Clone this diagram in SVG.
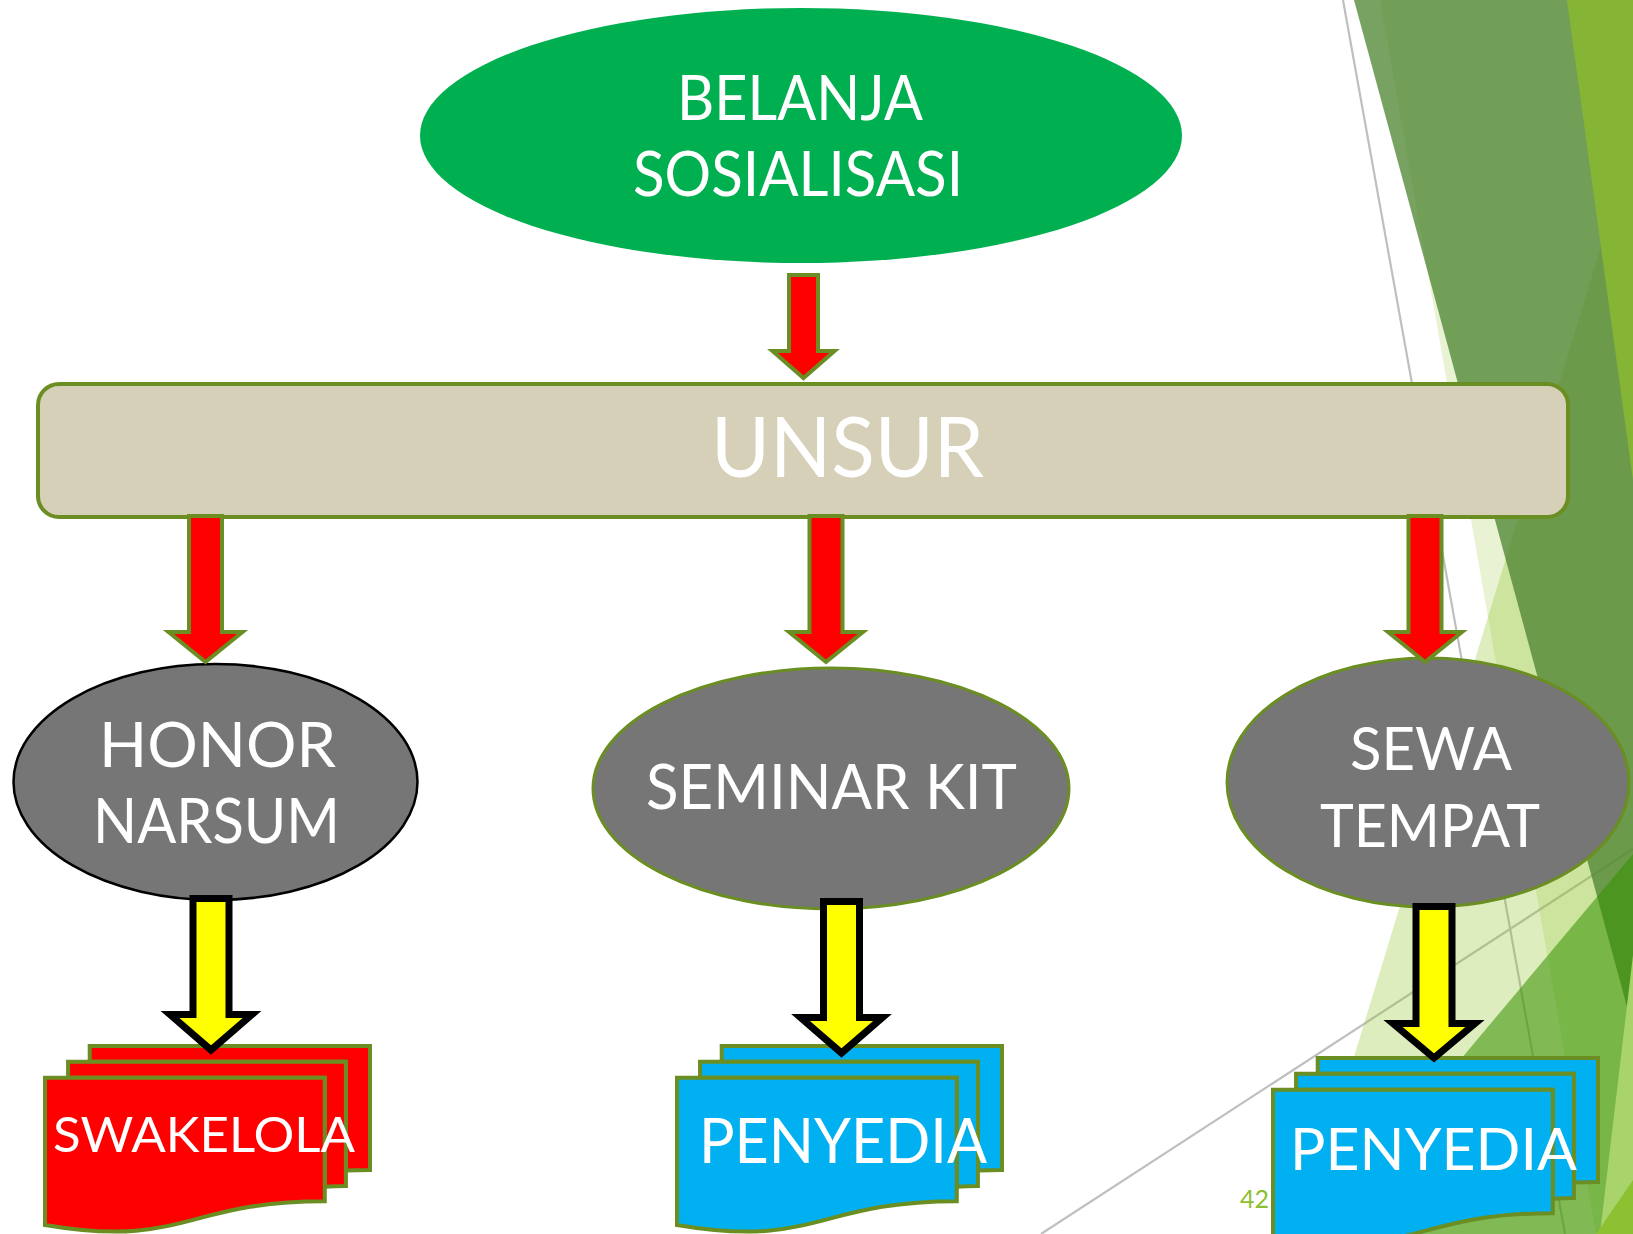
<svg xmlns="http://www.w3.org/2000/svg" width="1633" height="1234" viewBox="0 0 1633 1234">
  <style>
    .lbl { font-family: Lato, "Open Sans", "Liberation Sans", sans-serif; fill: #FFFFFF; text-anchor: middle; }
    .olive { stroke: #6B8E23; }
    .red-arrow { fill: #FF0000; stroke: #6B8E23; stroke-width: 4; stroke-linejoin: miter; }
    .yel-arrow { fill: #FFFF00; stroke: #000000; stroke-width: 7; stroke-linejoin: miter; }
    .gray-node { fill: #767676; }
    .doc { stroke: #6B8E23; stroke-width: 4; stroke-linejoin: miter; }
    .bgline { stroke: #BFBFBF; stroke-width: 2.2; fill: none; }
  </style>
  <defs>
    <g id="multidoc">
      <path vector-effect="non-scaling-stroke" d="M2972,1815 L2972,0 L21600,0 L21600,14392 C20800,14392 20000,14467 20000,14467 L20000,1815 Z"/>
      <path vector-effect="non-scaling-stroke" d="M1532,3675 L1532,1815 L20000,1815 L20000,16252 C19298,16252 18595,16352 18595,16352 L18595,3675 Z"/>
      <path vector-effect="non-scaling-stroke" d="M0,20782 C9298,23542 9298,18022 18595,18022 L18595,3675 L0,3675 Z"/>
    </g>
  </defs>

  <rect x="0" y="0" width="1633" height="1234" fill="#FFFFFF"/>

  <g id="background">
    <line class="bgline" x1="1343" y1="0" x2="1565" y2="1234"/>
    <line class="bgline" x1="1041" y1="1234" x2="1633" y2="849"/>
    <polygon points="1380,0 1633,0 1633,1234 1596,1234" fill="#90C226" fill-opacity="0.2"/>
    <polygon points="1633,141 1633,1234 1300,1234" fill="#90C226" fill-opacity="0.3"/>
    <polygon points="1354,0 1633,0 1633,1029" fill="#4A832E" fill-opacity="0.75"/>
    <polygon points="1567,0 1633,0 1633,480" fill="#86B535"/>
    <polygon points="1314,1234 1633,854 1633,1234" fill="#358F00" fill-opacity="0.55"/>
    <polygon points="1633,955 1600,1234 1633,1234" fill="#A9D46B"/>
    <polygon points="1596,1234 1633,1180 1633,1234" fill="#8EC131"/>
    <text x="1269" y="1208" font-family="Lato, 'Open Sans', sans-serif" font-size="25" fill="#8CBF2F" text-anchor="end">42</text>
  </g>

  <g id="node-belanja">
    <ellipse cx="801" cy="135.5" rx="381" ry="127.5" fill="#00B050"/>
    <text class="lbl" x="800" y="120" font-size="62" textLength="246" lengthAdjust="spacingAndGlyphs">BELANJA</text>
    <text class="lbl" x="798" y="196" font-size="62" textLength="330" lengthAdjust="spacingAndGlyphs">SOSIALISASI</text>
  </g>

  <g id="node-unsur">
    <rect x="38" y="384" width="1530" height="133" rx="21" ry="21" fill="#D6D0B8" class="olive" stroke-width="4"/>
    <text class="lbl" x="847.5" y="477" font-size="84" textLength="273" lengthAdjust="spacingAndGlyphs">UNSUR</text>
  </g>

  <g id="node-honor">
    <ellipse class="gray-node" cx="215.5" cy="782" rx="202" ry="118" stroke="#000000" stroke-width="2.5"/>
    <text class="lbl" x="217.5" y="767" font-size="61" textLength="237" lengthAdjust="spacingAndGlyphs">HONOR</text>
    <text class="lbl" x="216.5" y="843" font-size="61" textLength="247" lengthAdjust="spacingAndGlyphs">NARSUM</text>
  </g>

  <g id="node-seminar">
    <ellipse class="gray-node olive" cx="831" cy="788.5" rx="238" ry="120.5" stroke-width="3"/>
    <text class="lbl" x="831.5" y="809" font-size="61" textLength="371" lengthAdjust="spacingAndGlyphs">SEMINAR KIT</text>
  </g>

  <g id="node-sewa">
    <ellipse class="gray-node olive" cx="1428" cy="782.5" rx="201" ry="124.5" stroke-width="3"/>
    <text class="lbl" x="1431" y="770" font-size="60" textLength="162" lengthAdjust="spacingAndGlyphs">SEWA</text>
    <text class="lbl" x="1430" y="847" font-size="60" textLength="220" lengthAdjust="spacingAndGlyphs">TEMPAT</text>
  </g>

  <g id="node-swakelola">
    <use href="#multidoc" class="doc" fill="#FF0000" transform="translate(45,1046) scale(0.015046,0.008611)"/>
    <text class="lbl" x="204" y="1152" font-size="49" textLength="302" lengthAdjust="spacingAndGlyphs">SWAKELOLA</text>
  </g>

  <g id="node-penyedia-1">
    <use href="#multidoc" class="doc" fill="#00B0F0" transform="translate(677,1046) scale(0.015046,0.008611)"/>
    <text class="lbl" x="843" y="1163" font-size="61" textLength="288" lengthAdjust="spacingAndGlyphs">PENYEDIA</text>
  </g>

  <g id="node-penyedia-2">
    <use href="#multidoc" class="doc" fill="#00B0F0" transform="translate(1273,1058) scale(0.015046,0.008611)"/>
    <text class="lbl" x="1433.5" y="1170" font-size="58" textLength="287" lengthAdjust="spacingAndGlyphs">PENYEDIA</text>
  </g>

  <g id="connectors">
    <path class="red-arrow" d="M789,275 H818 V351 H834.5 L803.5,378 L772.5,351 H789 Z"/>
    <path class="red-arrow" d="M189,516 H222 V632 H242.5 L205.5,662 L168.5,632 H189 Z"/>
    <path class="red-arrow" d="M809.5,516 H842.5 V632 H863 L826,662 L789,632 H809.5 Z"/>
    <path class="red-arrow" d="M1408.5,516 H1441.5 V632 H1462 L1425,662 L1388,632 H1408.5 Z"/>
    <path class="yel-arrow" d="M193,898.5 H229 V1014.5 H252 L211,1050 L170,1014.5 H193 Z"/>
    <path class="yel-arrow" d="M823.5,901.5 H859.5 V1017.5 H882.5 L841.5,1053 L800.5,1017.5 H823.5 Z"/>
    <path class="yel-arrow" d="M1416,906.5 H1452 V1023.5 H1475 L1434,1058 L1393,1023.5 H1416 Z"/>
  </g>
</svg>
